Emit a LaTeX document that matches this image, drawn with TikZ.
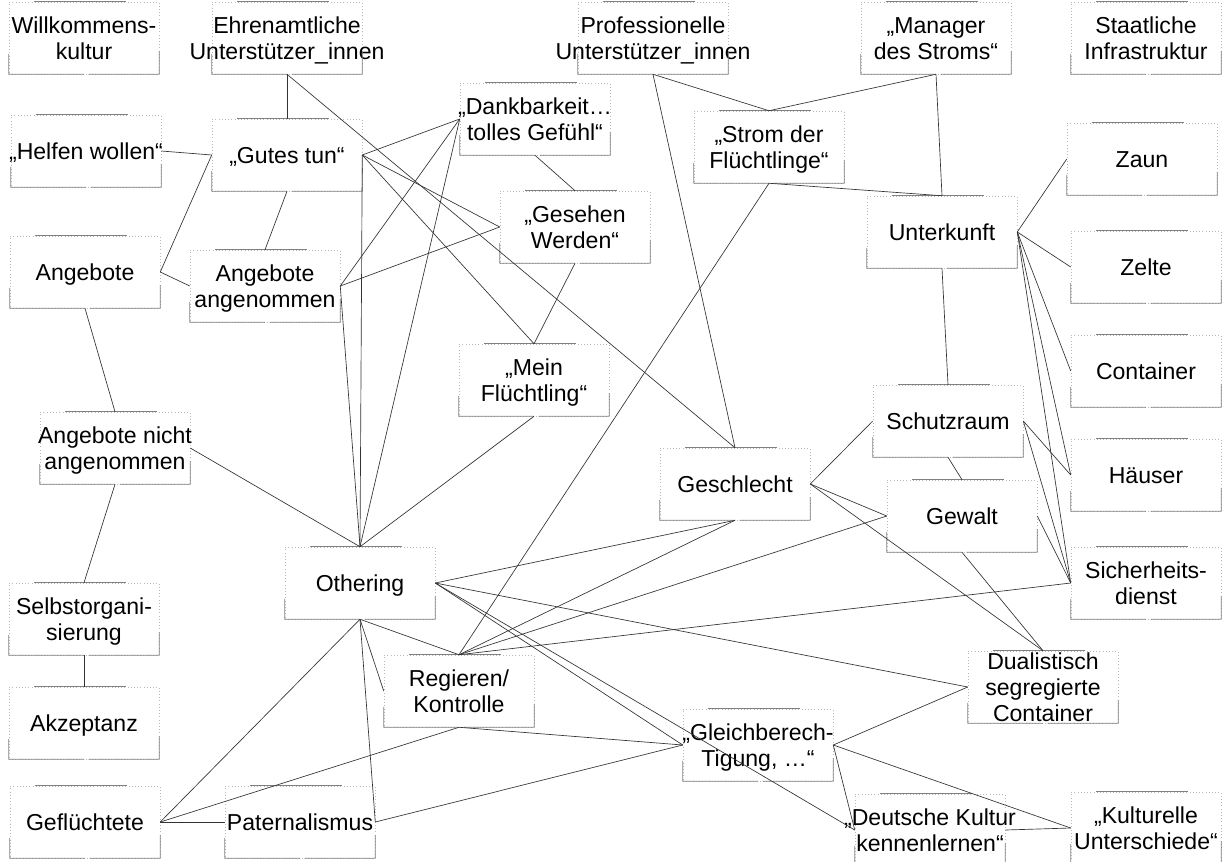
\documentclass[tikz,border=0pt]{standalone}
\usepackage{fontspec}
\setmainfont{Liberation Sans}
\usetikzlibrary{calc}

\newcommand{\celltext}[1]{\makebox[0pt]{\begin{tabular}{@{}c@{}}#1\end{tabular}}}

\tikzset{
  box/.style={minimum width=112.5pt, minimum height=54pt, inner sep=0pt,
    draw=gray!55, dotted, text height=33.6pt, text depth=20.4pt,
    font=\fontsize{17.3pt}{19.5pt}\selectfont},
  frame/.style={draw=black!50, line width=0.5pt},
  link/.style={draw=black!80, line width=0.5pt}
}

\begin{document}
\begin{tikzpicture}[x=0.75pt, y=-0.75pt]
\useasboundingbox (0,0) rectangle (1223,861);
%boxes, top to bottom:
\node[box] (wk) at (84,38) {\celltext{Willkommens-\\kultur}};
\node[box] (ehr) at (287,38) {\celltext{Ehrenamtliche\\Unterstützer\_innen}};
\node[box] (prof) at (653,38) {\celltext{Professionelle\\Unterstützer\_innen}};
\node[box] (man) at (936,38) {\celltext{„Manager\\des Stroms“}};
\node[box] (staat) at (1146,38) {\celltext{Staatliche\\Infrastruktur}};
\node[box] (helf) at (86,151) {\celltext{„Helfen wollen“}};
\node[box] (gut) at (287,155) {\celltext{„Gutes tun“}};
\node[box] (dank) at (535,119) {\celltext{„Dankbarkeit…\\tolles Gefühl“}};
\node[box] (strom) at (769,147) {\celltext{„Strom der\\Flüchtlinge“}};
\node[box] (zaun) at (1142,159) {\celltext{Zaun}};
\node[box] (geseh) at (575,227) {\celltext{„Gesehen\\Werden“}};
\node[box] (unter) at (942,232) {\celltext{Unterkunft}};
\node[box] (zelte) at (1146,267) {\celltext{Zelte}};
\node[box] (ang) at (85,272) {\celltext{Angebote}};
\node[box] (angan) at (265,286) {\celltext{Angebote\\angenommen}};
\node[box] (mein) at (534,380) {\celltext{„Mein\\Flüchtling“}};
\node[box] (cont) at (1146,371) {\celltext{Container}};
\node[box] (angn) at (115,448) {\celltext{Angebote nicht\\angenommen}};
\node[box] (schutz) at (948,421) {\celltext{Schutzraum}};
\node[box] (haeus) at (1146,475) {\celltext{Häuser}};
\node[box] (gesch) at (735,484) {\celltext{Geschlecht}};
\node[box] (gew) at (962,516) {\celltext{Gewalt}};
\node[box] (sich) at (1146,583) {\celltext{Sicherheits-\\dienst}};
\node[box] (oth) at (360,583) {\celltext{Othering}};
\node[box] (selbst) at (84,619) {\celltext{Selbstorgani-\\sierung}};
\node[box] (reg) at (459,691) {\celltext{Regieren/\\Kontrolle}};
\node[box] (dual) at (1043,687) {\celltext{Dualistisch\\segregierte\\Container}};
\node[box] (akz) at (84,723) {\celltext{Akzeptanz}};
\node[box] (gleich) at (758,745) {\celltext{„Gleichberech-\\Tigung, …“}};
\node[box] (gefl) at (85,822) {\celltext{Geflüchtete}};
\node[box] (pat) at (300,822) {\celltext{Paternalismus}};
\node[box] (deut) at (930,830) {\celltext{„Deutsche Kultur\\kennenlernen“}};
\node[box] (kult) at (1146,828) {\celltext{„Kulturelle\\Unterschiede“}};
%solid parts of the frames:
\foreach \n in {wk,ehr,prof,man,staat,helf,gut,dank,strom,zaun,geseh,unter,zelte,ang,angan,mein,cont,angn,schutz,haeus,gesch,gew,sich,oth,selbst,reg,dual,akz,gleich,gefl,pat,deut,kult}{
  \draw[frame] ($(\n.north west)!0.17!(\n.north east)$) -- ($(\n.north west)!0.78!(\n.north east)$);
  \draw[frame] ($(\n.north east)!0.68!(\n.south east)$) -- (\n.south east) -- ($(\n.south east)!0.47!(\n.south west)$);
  \draw[frame] ($(\n.south west)!0.5!(\n.south east)$) -- (\n.south west) -- ($(\n.south west)!0.28!(\n.north west)$);
}
%links:
\foreach \a/\b in {ehr.south/gut.north, ehr.south/gesch.north, helf.east/gut.west,
  gut.west/ang.east, ang.east/angan.west, gut.south/angan.north,
  gut.east/dank.west, gut.east/geseh.west, gut.east/mein.north, gut.east/oth.north,
  dank.west/angan.east, dank.west/oth.north, dank.south/geseh.north,
  geseh.west/angan.east, geseh.south/mein.north, mein.south/oth.north,
  angan.east/oth.north, ang.south/angn.north, angn.east/oth.north,
  angn.south/selbst.north, selbst.south/akz.north,
  oth.south/gefl.east, oth.south/pat.east, oth.south/reg.north, oth.south/reg.west,
  oth.east/gesch.south, oth.east/dual.west, oth.east/gleich.west, oth.east/deut.west,
  reg.north/gesch.south, reg.north/gew.west, reg.north/sich.west, reg.north/strom.south,
  reg.south/gefl.east, reg.south/gleich.west, pat.east/gleich.west, gefl.east/pat.west,
  gleich.east/dual.west, gleich.east/kult.west, gleich.east/deut.west, deut.east/kult.west,
  gesch.east/schutz.west, gesch.east/gew.west, gesch.east/dual.north,
  gew.south/dual.north, schutz.south/gew.north, schutz.east/haeus.west,
  schutz.east/sich.west, gew.east/sich.west, unter.south/schutz.north,
  unter.east/zaun.west, unter.east/zelte.west, unter.east/cont.west,
  unter.east/haeus.west, unter.east/sich.west,
  man.south/strom.north, man.south/unter.north, prof.south/strom.north,
  prof.south/gesch.north, strom.south/unter.north}
  \draw[link] (\a) -- (\b);
\end{tikzpicture}
\end{document}
